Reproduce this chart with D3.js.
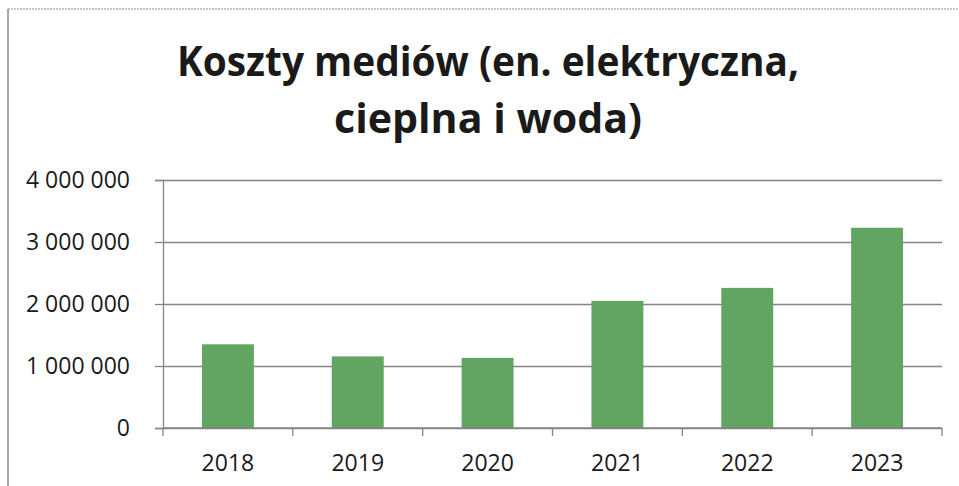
<!DOCTYPE html>
<html lang="pl">
<head>
    <meta charset="UTF-8">
    <title>Koszty mediów</title>
    <script src="https://d3js.org/d3.v7.min.js"></script>
    <style>
        html, body { margin: 0; padding: 0; background: #fff; }
        svg text { font-family: 'Open Sans', sans-serif; fill: #1a1a1a; }
    </style>
</head>
<body>
    <div id="chart"></div>

    <script>
        // data
        const years = ['2018', '2019', '2020', '2021', '2022', '2023'];
        const costs = [1350000, 1155000, 1130000, 2050000, 2260000, 3230000];
        const yTicks = [0, 1000000, 2000000, 3000000, 4000000];
        const titleLines = ['Koszty mediów (en. elektryczna,', 'cieplna i woda)'];

        const width = 959, height = 486;
        const margin = { top: 180, right: 17, bottom: 58, left: 163 };
        const colors = { bar: '#62a462', grid: '#858585', border: '#b5b5b5' };

        const svg = d3.select('#chart').append('svg')
            .attr('width', width)
            .attr('height', height);

        // chart border (left + top visible in the scan)
        svg.append('line')
            .attr('x1', 8).attr('x2', width).attr('y1', 9).attr('y2', 9)
            .attr('stroke', colors.border).attr('stroke-width', 1.5)
            .attr('stroke-dasharray', '2,1');
        svg.append('line')
            .attr('x1', 8).attr('x2', 8).attr('y1', 9).attr('y2', height)
            .attr('stroke', '#8a8a8a').attr('stroke-width', 1.5);

        // title
        const title = svg.append('text')
            .attr('text-anchor', 'middle')
            .style('font-weight', 700)
            .style('font-size', '42px');
        title.selectAll('tspan')
            .data(titleLines)
            .join('tspan')
            .attr('x', 488)
            .attr('y', (d, i) => 76 + i * 57)
            .attr('textLength', (d, i) => i === 0 ? 622 : 308)
            .attr('lengthAdjust', 'spacingAndGlyphs')
            .text(d => d);

        const g = svg.append('g')
            .attr('transform', `translate(${margin.left},${margin.top})`);

        const innerW = width - margin.left - margin.right;
        const innerH = height - margin.top - margin.bottom;

        const x = d3.scaleBand().domain(years).range([0, innerW]).paddingInner(0.6).paddingOuter(0.3);
        const y = d3.scaleLinear().domain([0, 4000000]).range([innerH, 0]);

        const fmt = v => d3.format(',')(v).replace(/,/g, ' ');

        // y gridlines + ticks
        const yAxis = g.append('g')
            .call(d3.axisLeft(y).tickValues(yTicks).tickSize(8).tickPadding(25).tickFormat(fmt));
        yAxis.select('.domain').attr('stroke', colors.grid).attr('stroke-width', 1.3);
        yAxis.selectAll('.tick line').attr('stroke', colors.grid).attr('stroke-width', 1.3);
        yAxis.selectAll('.tick text')
            .style('font-size', '23px')
            .style('font-family', "'Open Sans', sans-serif")
            .attr('fill', '#1a1a1a');
        yAxis.selectAll('.tick').append('line')
            .attr('x1', 0).attr('x2', innerW)
            .attr('stroke', colors.grid).attr('stroke-width', 1.3);

        // bars
        g.selectAll('.bar')
            .data(costs)
            .join('rect')
            .attr('class', 'bar')
            .attr('x', (d, i) => x(years[i]))
            .attr('y', d => y(d))
            .attr('width', x.bandwidth())
            .attr('height', d => innerH - y(d))
            .attr('fill', colors.bar);

        // x axis: baseline, tick marks between categories, year labels
        const step = x.step();
        const xAxis = g.append('g').attr('transform', `translate(0,${innerH})`);
        xAxis.append('line')
            .attr('x1', 0).attr('x2', innerW)
            .attr('stroke', colors.grid).attr('stroke-width', 1.3);
        xAxis.selectAll('.xtick')
            .data(d3.range(years.length + 1))
            .join('line')
            .attr('class', 'xtick')
            .attr('x1', i => i * step).attr('x2', i => i * step)
            .attr('y1', 0).attr('y2', 8)
            .attr('stroke', colors.grid).attr('stroke-width', 1.3);
        xAxis.selectAll('.xlabel')
            .data(years)
            .join('text')
            .attr('class', 'xlabel')
            .attr('x', d => x(d) + x.bandwidth() / 2)
            .attr('y', 43)
            .attr('text-anchor', 'middle')
            .style('font-size', '23px')
            .text(d => d);
    </script>
</body>
</html>
